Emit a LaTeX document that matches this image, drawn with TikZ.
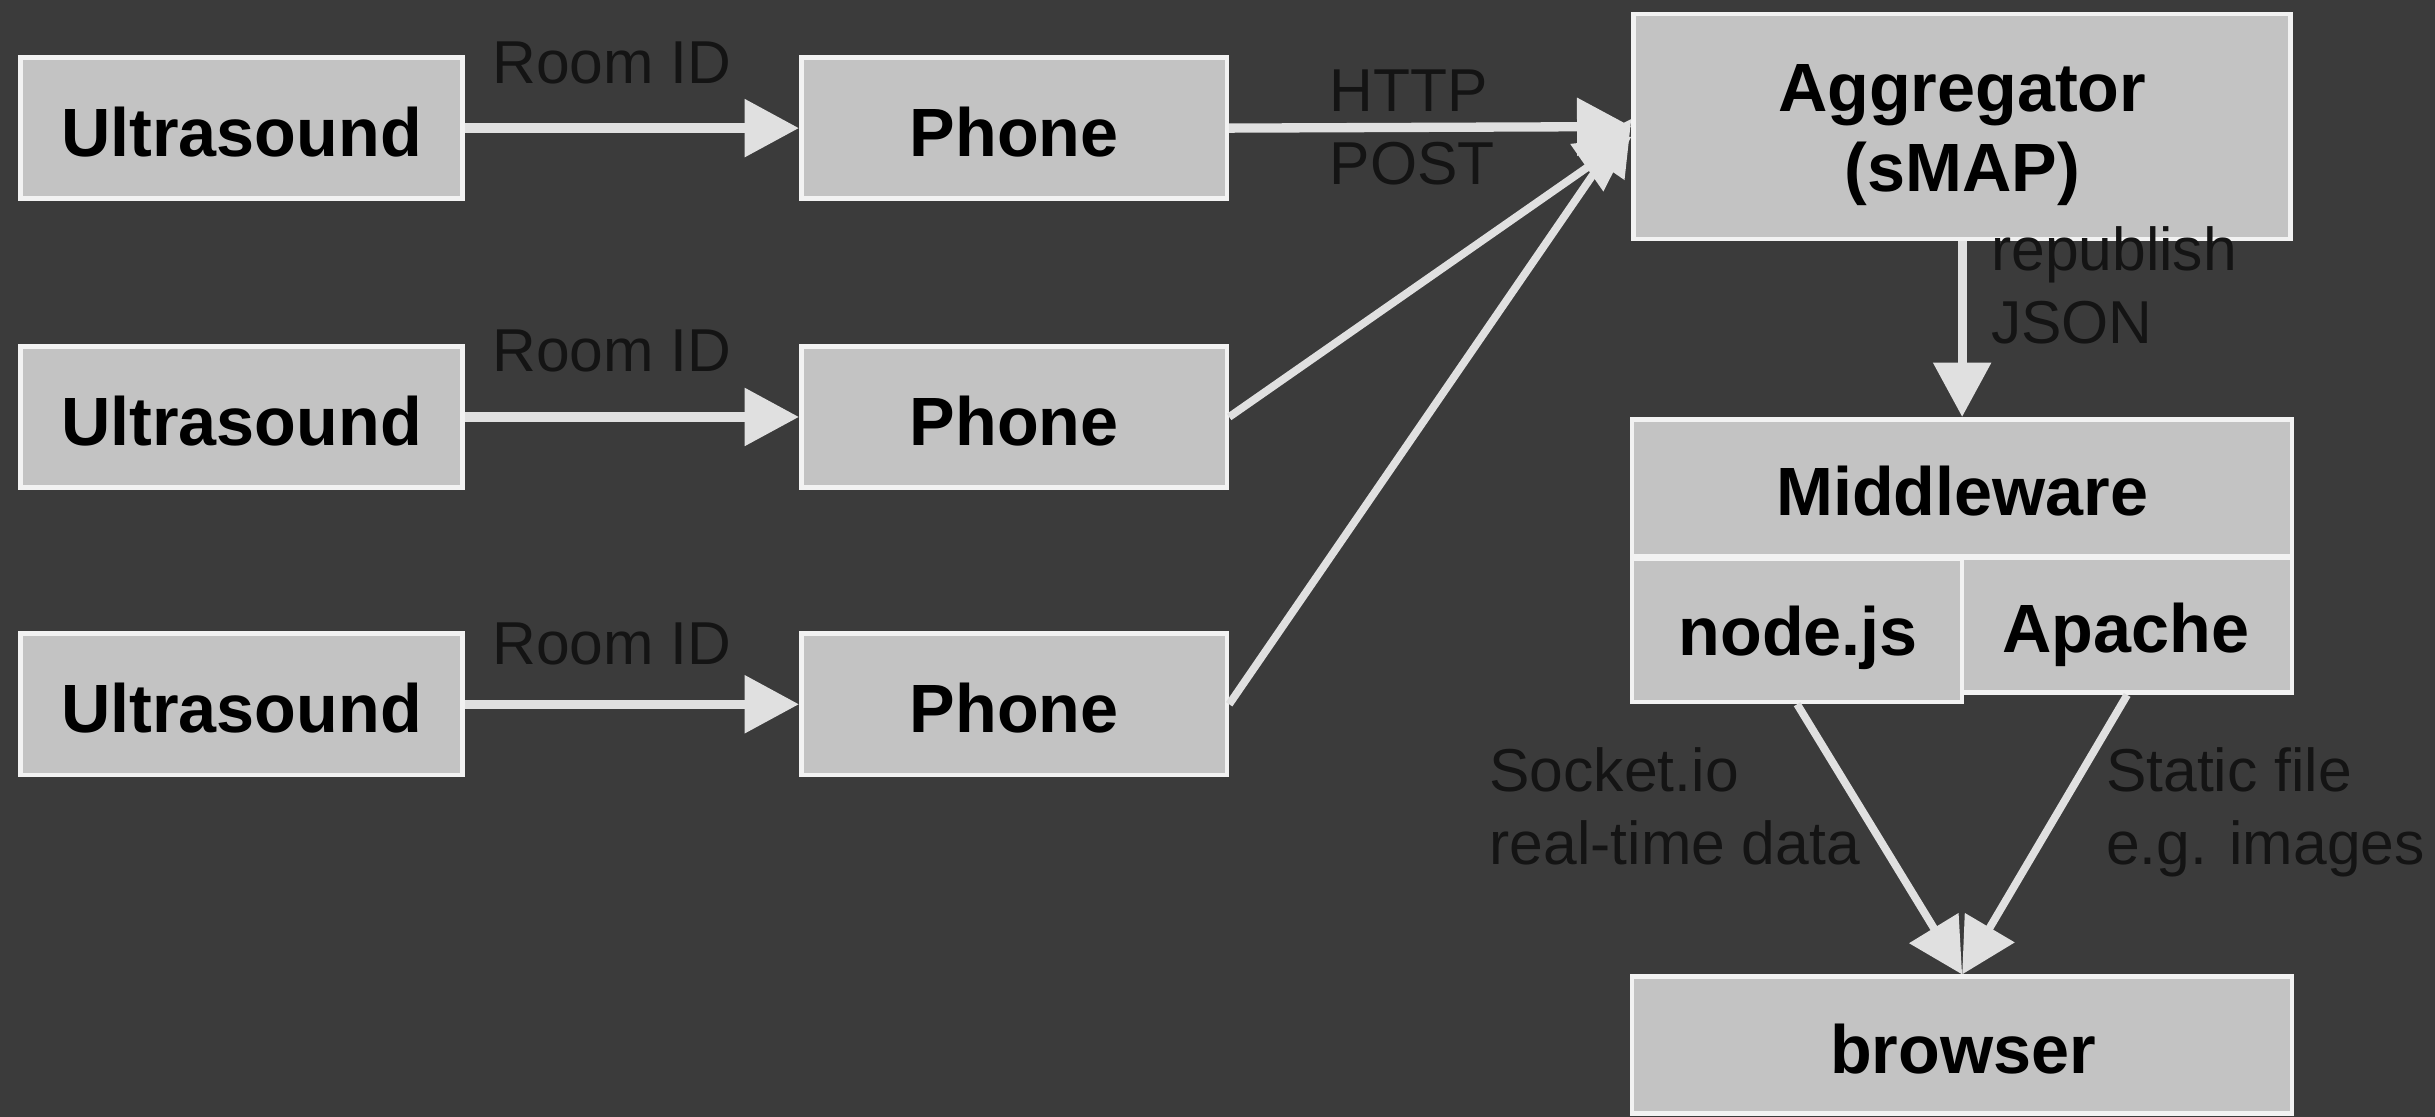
\documentclass[tikz,border=0pt]{standalone}
\usepackage{fontspec}
\setmainfont{Liberation Sans}
\usetikzlibrary{arrows.meta}
\definecolor{bg}{HTML}{3B3B3B}
\definecolor{boxfill}{HTML}{C3C3C3}
\definecolor{boxline}{HTML}{F2F2F2}
\definecolor{arr}{HTML}{E0E0E0}
\definecolor{lbl}{HTML}{141414}
\begin{document}
\begin{tikzpicture}[x=1pt,y=-1pt,
  box/.style={draw=boxline, fill=boxfill, line width=3pt, rectangle, inner sep=0pt},
  boxtext/.style={anchor=base, inner sep=0pt, font=\fontsize{44}{50}\selectfont\bfseries, text=black},
  lab/.style={anchor=base west, inner sep=0pt, font=\fontsize{39}{46}\selectfont, text=lbl},
  conn/.style={draw=arr, line width=6pt, -{Triangle[length=35pt,width=36pt]}},
  thinconn/.style={conn, line width=5pt}
]
\fill[bg] (0,0) rectangle (1568,719);
\useasboundingbox (0,0) rectangle (1568,719);

% left column boxes
\node[box, minimum width=285pt, minimum height=91pt] (u1) at (155.5,82.5) {};
\node[box, minimum width=285pt, minimum height=91pt] (u2) at (155.5,268.5) {};
\node[box, minimum width=285pt, minimum height=91pt] (u3) at (155.5,453.5) {};
\node[boxtext] (u1t) at (155.5,101) {Ultrasound};
\node[boxtext] (u2t) at (155.5,287) {Ultrasound};
\node[boxtext] (u3t) at (155.5,472) {Ultrasound};

\node[box, minimum width=274pt, minimum height=91pt] (p1) at (653,82.5) {};
\node[box, minimum width=274pt, minimum height=91pt] (p2) at (653,268.5) {};
\node[box, minimum width=274pt, minimum height=91pt] (p3) at (653,453.5) {};
\node[boxtext] (p1t) at (653,101) {Phone};
\node[boxtext] (p2t) at (653,287) {Phone};
\node[boxtext] (p3t) at (653,472) {Phone};

% right column
\node[box, minimum width=423pt, minimum height=145pt] (agg) at (1263.5,81.5) {};
\node[boxtext] (aggt1) at (1263.5,72) {Aggregator};
\node[boxtext] (aggt2) at (1263.5,123) {(sMAP)};

\node[box, minimum width=425pt, minimum height=88pt] (mw) at (1263.5,314) {};
\node[boxtext] (mwt) at (1263.5,332) {Middleware};
\node[box, minimum width=212.5pt, minimum height=92.5pt] (nj) at (1157.25,405.75) {};
\node[boxtext] (njt) at (1158,422) {node.js};
\node[box, minimum width=212.5pt, minimum height=87pt] (ap) at (1369.75,402.5) {};
\node[boxtext] (apt) at (1369,420) {Apache};

\node[box, minimum width=425pt, minimum height=88pt] (br) at (1263.5,673) {};
\node[boxtext] (brt) at (1264,691) {browser};

% connectors
\draw[conn] (u1.east) -- (p1.west);
\draw[conn] (u2.east) -- (p2.west);
\draw[conn] (u3.east) -- (p3.west);
\draw[conn] (p1.east) -- (agg.west);
\draw[thinconn] (p2.east) -- ([yshift=-6.5pt]agg.west);
\draw[thinconn] (p3.east) -- ([yshift=5pt]agg.west);
\draw[conn] (agg.south) -- (mw.north);
\draw[thinconn] (nj.south) -- (br.north);
\draw[thinconn] (ap.south) -- (br.north);

% labels
\node[lab] (l1) at (317,53.6) {Room ID};
\node[lab] (l2) at (317,239.3) {Room ID};
\node[lab] (l3) at (317,428.2) {Room ID};
\node[lab] (h1) at (856,72) {HTTP};
\node[lab] (h2) at (856,119) {POST};
\node[lab] (r1) at (1282,174) {republish};
\node[lab] (r2) at (1282,221) {JSON};
\node[lab] (s1) at (959,509.5) {Socket.io};
\node[lab] (s2) at (959,556.5) {real-time data};
\node[lab] (f1) at (1356,509.5) {Static file};
\node[lab] (f2) at (1356,556.5) {e.g. images};
\end{tikzpicture}
\end{document}
